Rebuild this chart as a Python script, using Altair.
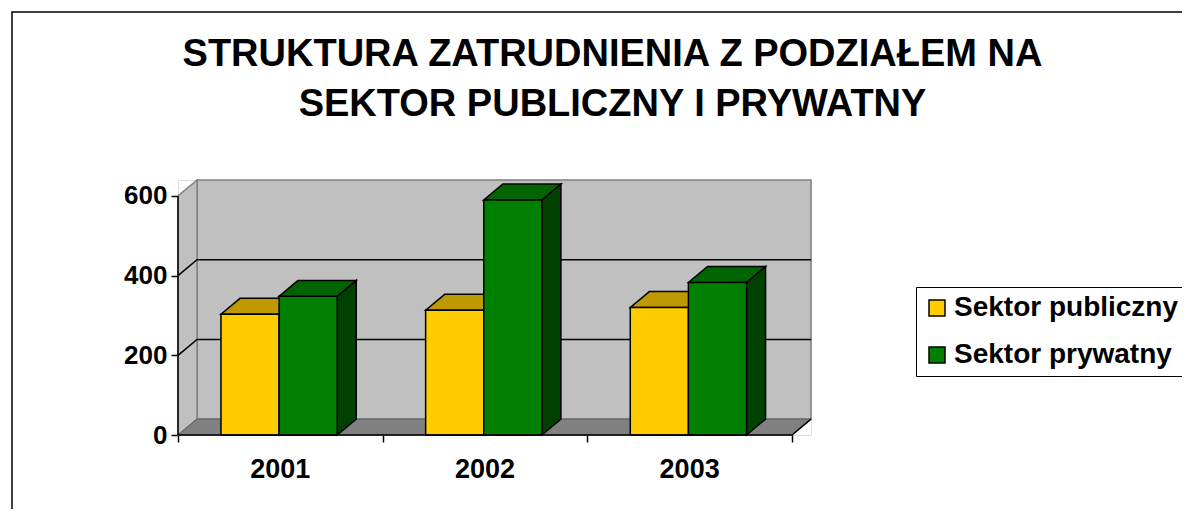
import altair as alt
import pandas as pd

# ---- data ----
years = ["2001", "2002", "2003"]
sectors = ["Sektor publiczny", "Sektor prywatny"]
publiczny = [303, 313, 320]
prywatny = [348, 590, 383]
y_ticks = [0, 200, 400, 600]
grid_values = [200, 400]

title_lines = ["STRUKTURA ZATRUDNIENIA Z PODZIAŁEM NA", "SEKTOR PUBLICZNY I PRYWATNY"]

front_colors = ["#FFCC00", "#008000"]
top_colors = ["#BF9900", "#006400"]
side_colors = ["#8C7000", "#004000"]

# ---- 3D geometry (in data units) ----
BAR_LEFT = 0.21
BAR_W = 0.284
DX = 0.093      # depth, x units
DY = 40         # depth, y units
NCAT = len(years)
YMAX = 600

FONT = "Liberation Sans"

xs = alt.Scale(domain=[0, NCAT + DX], nice=False, zero=False)
ys = alt.Scale(domain=[0, YMAX + DY], nice=False, zero=False)

x_axis = alt.Axis(values=list(range(NCAT + 1)), labels=False, domain=False, grid=False, ticks=True,
                  tickSize=7, tickColor="black", tickWidth=1.5, title=None)
y_axis = alt.Axis(values=y_ticks, domain=False, grid=False, tickSize=7, tickColor="black", tickWidth=1.5,
                  title=None, labelFont=FONT, labelFontSize=26, labelFontWeight="bold",
                  labelColor="black", labelPadding=4)

values = {sectors[0]: publiczny, sectors[1]: prywatny}

bar_rows, side_rows, top_rows = [], [], []
for i, yr in enumerate(years):
    for s, name in enumerate(sectors):
        v = values[name][i]
        x0 = i + BAR_LEFT + s * BAR_W
        x1 = x0 + BAR_W
        key = f"{name}-{yr}"
        bar_rows.append(dict(year=yr, sector=name, value=v, x0=x0, x1=x1, zero=0))
        side_rows.append(dict(key=key, sector=name, x=x1, lo=0, hi=v))
        side_rows.append(dict(key=key, sector=name, x=x1 + DX, lo=DY, hi=v + DY))
        top_rows.append(dict(key=key, sector=name, y=v, a=x0, b=x1))
        top_rows.append(dict(key=key, sector=name, y=v + DY, a=x0 + DX, b=x1 + DX))

bars = pd.DataFrame(bar_rows)
sides = pd.DataFrame(side_rows)
tops = pd.DataFrame(top_rows)

def X(f):
    return alt.X(f, scale=xs, axis=x_axis)

def Y(f):
    return alt.Y(f, scale=ys, axis=y_axis)

# outer frame of the chart object (outline only)
frame = alt.Chart(pd.DataFrame({"k": [0]})).mark_rect(
    fill="white", fillOpacity=0, stroke="black", strokeWidth=1.5
).encode(x=alt.value(-166), x2=alt.value(1100), y=alt.value(-168), y2=alt.value(420))

# back wall
back = alt.Chart(pd.DataFrame({"x": [DX], "x2": [NCAT + DX], "y": [DY], "y2": [YMAX + DY]})).mark_rect(
    fill="#C0C0C0", stroke="#808080", strokeWidth=1.5
).encode(x=X("x:Q"), x2="x2:Q", y=Y("y:Q"), y2="y2:Q")

# left wall
leftwall = alt.Chart(pd.DataFrame({"x": [0, DX], "lo": [0, DY], "hi": [YMAX, YMAX + DY]})).mark_area(
    fill="#C0C0C0", stroke="#808080", strokeWidth=1.5
).encode(x=X("x:Q"), y=Y("hi:Q"), y2="lo:Q")

# floor
floor = alt.Chart(pd.DataFrame({"y": [0, DY], "a": [0, DX], "b": [NCAT, NCAT + DX]})).mark_area(
    orient="horizontal", fill="#808080", stroke="#606060", strokeWidth=1
).encode(y=Y("y:Q"), x=X("a:Q"), x2="b:Q")

# gridlines (left wall slant + back wall)
grid_rows = []
for g in grid_values:
    grid_rows += [dict(g=g, o=0, x=0, y=g), dict(g=g, o=1, x=DX, y=g + DY), dict(g=g, o=2, x=NCAT + DX, y=g + DY)]
grid = alt.Chart(pd.DataFrame(grid_rows)).mark_line(color="black", strokeWidth=1.5).encode(
    x=X("x:Q"), y=Y("y:Q"), detail="g:N", order="o:Q"
)

legend = alt.Legend(
    title=None, orient="none", legendX=738, legendY=107,
    strokeColor="black", fillColor="white", padding=7,
    symbolType="square", symbolSize=256, symbolStrokeColor="black", symbolStrokeWidth=1.5,
    labelFont=FONT, labelFontSize=28, labelFontWeight="bold", labelColor="black",
    labelOffset=3, rowPadding=19, labelLimit=500,
)

layers = [back, leftwall, floor, grid]
for s, name in enumerate(sectors):
    side = alt.Chart(sides[sides.sector == name]).mark_area(
        fill=side_colors[s], stroke="black", strokeWidth=1.5
    ).encode(x=X("x:Q"), y=Y("hi:Q"), y2="lo:Q", detail="key:N")
    top = alt.Chart(tops[tops.sector == name]).mark_area(
        orient="horizontal", fill=top_colors[s], stroke="black", strokeWidth=1.5
    ).encode(y=Y("y:Q"), x=X("a:Q"), x2="b:Q", detail="key:N")
    front = alt.Chart(bars[bars.sector == name]).mark_bar(stroke="black", strokeWidth=1.5).encode(
        x=X("x0:Q"), x2="x1:Q",
        y=Y("value:Q"), y2="zero:Q",
        color=alt.Color("sector:N", scale=alt.Scale(domain=sectors, range=front_colors), legend=legend),
    )
    layers += [side, top, front]

# front axis lines
yaxis_line = alt.Chart(pd.DataFrame({"x": [0, 0], "y": [0, YMAX]})).mark_line(color="black", strokeWidth=1.5).encode(
    x=X("x:Q"), y=Y("y:Q"))
xaxis_line = alt.Chart(pd.DataFrame({"x": [0, NCAT, NCAT + DX], "y": [0, 0, DY]})).mark_line(
    color="black", strokeWidth=1.5).encode(x=X("x:Q"), y=Y("y:Q"))

labels = alt.Chart(pd.DataFrame({"year": years, "pos": [i + 0.5 for i in range(NCAT)], "zero": [0] * NCAT})).mark_text(
    font=FONT, fontSize=27, fontWeight="bold", color="black", dy=35, baseline="middle"
).encode(x=X("pos:Q"), y=Y("zero:Q"), text="year:N")

layers += [yaxis_line, xaxis_line, labels, frame]

W = round((NCAT + DX) * 204.67)
H = round((YMAX + DY) * 239 / 600)

chart = alt.layer(*layers).properties(
    width=W, height=H,
    padding={"left": 170, "top": 172, "right": 371, "bottom": 74},
    autosize=alt.AutoSizeParams(type="none"),
    title=alt.TitleParams(text=title_lines, font=FONT, fontSize=38, fontWeight="bold", color="black",
                          anchor="middle", frame="group", dx=118, offset=-113, lineHeight=50),
).configure_view(stroke=None).configure(background="white")

chart.save("out.html", embed_options={"renderer": "svg", "actions": False})
